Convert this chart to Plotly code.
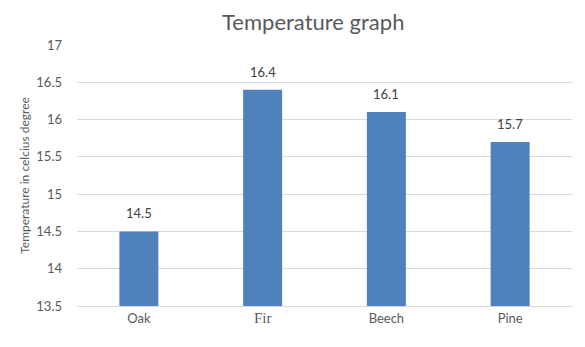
import plotly.graph_objects as go

categories = ["Oak", "Fir", "Beech", "Pine"]
temperatures = [14.5, 16.4, 16.1, 15.7]
tick_vals = [13.5, 14, 14.5, 15, 15.5, 16, 16.5, 17]
tick_labels = ["13.5", "14", "14.5", "15", "15.5", "16", "16.5", "17"]

cat_labels = [c if c != "Fir" else
              '<span style="font-family:Liberation Serif;font-size:15px">Fir</span>'
              for c in categories]

fig = go.Figure(go.Bar(
    x=categories, y=temperatures,
    marker=dict(color="#4F81BD", line=dict(width=0)),
    width=0.315,
))

for c, v in zip(categories, temperatures):
    fig.add_annotation(x=c, y=v, text=str(v), showarrow=False,
                       yanchor="bottom", yshift=8,
                       font=dict(family="Lato", size=13, color="#404040"))

fig.update_layout(
    width=577, height=339,
    margin=dict(l=69, r=13, t=37, b=41),
    paper_bgcolor="white", plot_bgcolor="white",
    font=dict(family="Lato", color="#595959"),
    title=dict(text="Temperature graph", x=0.529, xanchor="center", y=0.958, yanchor="middle",
               font=dict(family="Lato", size=22, color="#595959")),
    showlegend=False,
)
fig.update_xaxes(
    tickvals=categories, ticktext=cat_labels,
    tickfont=dict(family="Lato", size=13, color="#595959"),
    showline=True, linecolor="#D9D9D9", linewidth=1,
    ticks="", ticklen=0, automargin=False,
)
fig.update_yaxes(
    range=[13.5, 17], tickvals=tick_vals, ticktext=tick_labels,
    tickfont=dict(family="Lato", size=13, color="#595959"),
    showgrid=True, gridcolor="#D9D9D9", gridwidth=1,
    zeroline=False, ticks="", ticklabelstandoff=14, automargin=False,
    title=dict(text="Temperature in celcius degree", font=dict(family="Lato", size=12, color="#595959"), standoff=4),
)

fig.write_html("out.html")
